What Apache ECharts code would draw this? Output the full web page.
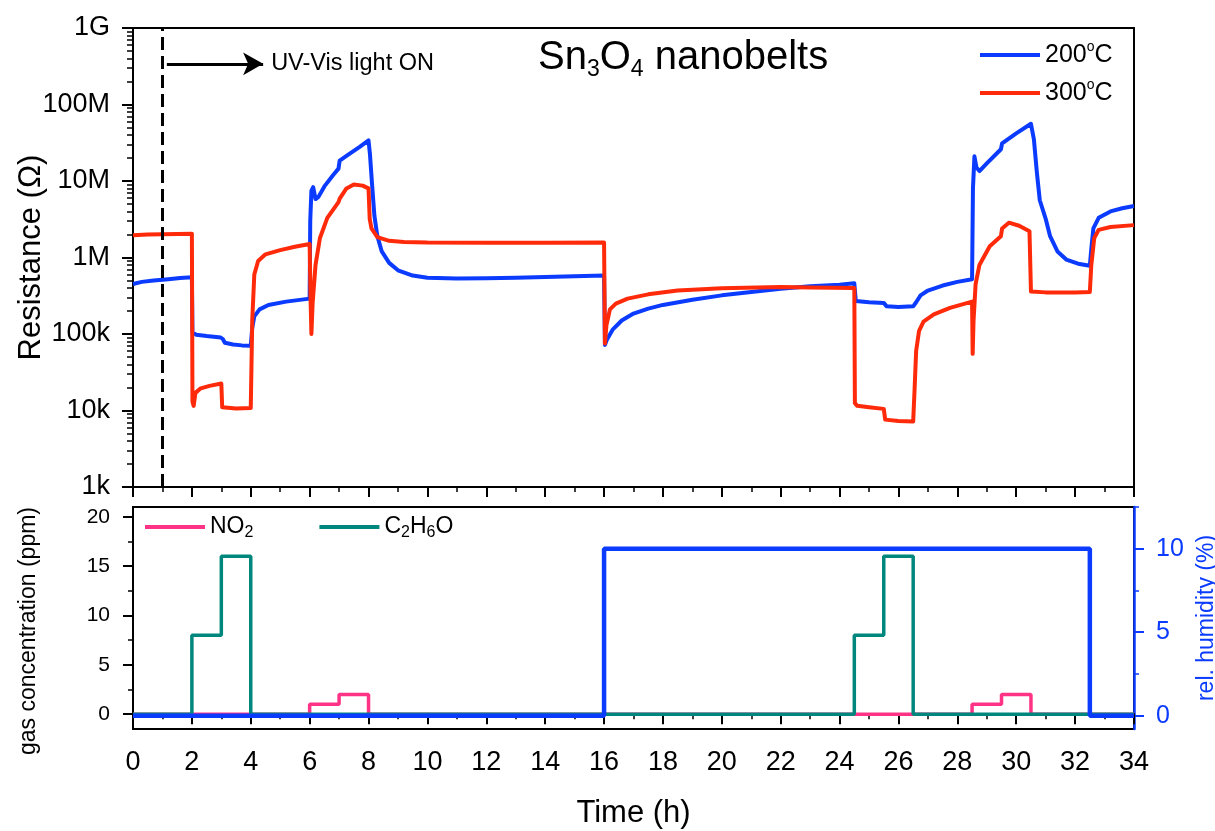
<!DOCTYPE html>
<html>
<head>
<meta charset="utf-8">
<script src="https://cdn.jsdelivr.net/npm/echarts@6/dist/echarts.min.js"></script>
<style>
  html, body { margin: 0; padding: 0; background: #fff; }
  #chart { width: 1215px; height: 831px; }
</style>
</head>
<body>
<div id="chart"></div>
<script>
// resistance (ohm) vs time (h)
const res200 = [
  [0, 4.5e5], [0.3, 4.8e5], [0.7, 5.0e5], [1.2, 5.2e5], [1.6, 5.4e5], [2.0, 5.5e5],
  [2.02, 1.05e5], [2.15, 9.8e4], [2.5, 9.4e4], [2.98, 9.0e4], [3.05, 8.6e4], [3.12, 7.7e4], [3.4, 7.3e4], [3.7, 7.1e4], [4.0, 7.0e4],
  [4.05, 1.2e5], [4.12, 1.7e5], [4.3, 2.1e5], [4.6, 2.4e5], [5.2, 2.65e5], [6.0, 2.9e5],
  [6.02, 3e6], [6.06, 7.5e6], [6.12, 8.3e6], [6.2, 5.8e6], [6.3, 6.2e6], [6.5, 8.5e6], [6.8, 1.2e7], [6.98, 1.45e7], [7.02, 1.85e7], [7.3, 2.2e7], [7.7, 2.8e7], [8.0, 3.4e7],
  [8.05, 2.2e7], [8.12, 9e6], [8.2, 3.5e6], [8.3, 1.9e6], [8.45, 1.2e6], [8.7, 8.5e5], [9.0, 6.8e5], [9.5, 5.8e5], [10, 5.45e5], [11, 5.3e5], [12, 5.35e5], [13, 5.45e5], [14, 5.55e5], [15, 5.7e5], [16, 5.8e5],
  [16.03, 7.2e4], [16.1, 8.5e4], [16.3, 1.15e5], [16.6, 1.5e5], [17, 1.85e5], [17.5, 2.15e5], [18, 2.4e5], [19, 2.8e5], [20, 3.2e5], [21, 3.55e5], [22, 3.9e5], [23, 4.2e5], [24, 4.4e5], [24.5, 4.6e5],
  [24.55, 2.7e5], [25, 2.6e5], [25.5, 2.55e5], [25.6, 2.3e5], [26, 2.25e5], [26.5, 2.3e5], [26.6, 2.6e5], [26.75, 3.2e5], [27, 3.7e5], [27.5, 4.3e5], [28, 4.8e5], [28.5, 5.2e5],
  [28.53, 8e6], [28.58, 2.1e7], [28.65, 1.5e7], [28.75, 1.35e7], [29, 1.7e7], [29.48, 2.6e7], [29.52, 3.1e7], [30, 4.2e7], [30.5, 5.6e7],
  [30.6, 3.5e7], [30.7, 1.3e7], [30.8, 5.6e6], [31.0, 3.2e6], [31.15, 1.9e6], [31.4, 1.2e6], [31.7, 9.4e5], [32.1, 8.3e5], [32.5, 7.8e5],
  [32.55, 1.3e6], [32.62, 2.4e6], [32.8, 3.3e6], [33.2, 4.0e6], [33.6, 4.4e6], [34, 4.7e6]
];
const res300 = [
  [0, 1.95e6], [0.5, 2.0e6], [1, 2.02e6], [2.0, 2.05e6],
  [2.02, 1.3e4], [2.06, 1.15e4], [2.12, 1.7e4], [2.3, 1.95e4], [2.6, 2.1e4], [3.0, 2.25e4], [3.03, 1.1e4], [3.5, 1.06e4], [4.0, 1.08e4],
  [4.05, 1.5e5], [4.12, 6e5], [4.25, 9e5], [4.5, 1.1e6], [5.0, 1.25e6], [5.5, 1.38e6], [6.0, 1.5e6],
  [6.03, 3e5], [6.06, 1.0e5], [6.1, 2.5e5], [6.2, 8e5], [6.35, 1.8e6], [6.6, 3.3e6], [6.98, 5.3e6], [7.02, 5.9e6], [7.25, 8e6], [7.5, 9e6], [7.8, 8.7e6], [8.0, 8.0e6],
  [8.04, 3.2e6], [8.1, 2.4e6], [8.3, 1.85e6], [8.7, 1.65e6], [9.2, 1.6e6], [10, 1.57e6], [12, 1.56e6], [14, 1.56e6], [16, 1.57e6],
  [16.03, 7.5e4], [16.08, 1.3e5], [16.2, 2.1e5], [16.4, 2.5e5], [16.8, 2.9e5], [17.5, 3.3e5], [18.5, 3.7e5], [20, 3.95e5], [22, 4.1e5], [23, 4.05e5], [24.5, 4.0e5],
  [24.52, 1.25e4], [24.6, 1.15e4], [25, 1.1e4], [25.5, 1.05e4], [25.55, 7.6e3], [26, 7.3e3], [26.5, 7.2e3],
  [26.55, 2.0e4], [26.6, 6e4], [26.7, 1.1e5], [26.85, 1.45e5], [27.2, 1.8e5], [27.75, 2.2e5], [28.5, 2.65e5],
  [28.52, 5.5e4], [28.55, 1.5e5], [28.62, 4.5e5], [28.75, 8e5], [29.1, 1.4e6], [29.48, 1.9e6], [29.52, 2.4e6], [29.75, 2.85e6], [30.1, 2.6e6], [30.45, 2.2e6],
  [30.5, 3.6e5], [31, 3.5e5], [32, 3.5e5], [32.5, 3.55e5],
  [32.55, 8e5], [32.65, 1.8e6], [32.8, 2.3e6], [33.2, 2.5e6], [34, 2.65e6]
];

// gas steps (ppm) and humidity steps (%), value holds until next point
const no2 = [[0, 0], [6, 1], [7, 2], [8, 0], [28.5, 1], [29.5, 2], [30.5, 0], [34, 0]];
const c2h6o = [[0, 0], [2, 8], [3, 16], [4, 0], [24.5, 8], [25.5, 16], [26.5, 0], [34, 0]];
const humidity = [[0, 0], [16, 10], [32.5, 0], [34, 0]];

const logTickLabels = ['1k', '10k', '100k', '1M', '10M', '100M', '1G'];
const gasTicks = [0, 5, 10, 15, 20];
const gasMinorTicks = [2.5, 7.5, 12.5, 17.5];
const humTicks = [0, 5, 10];
const humMinorTicks = [2.5, 7.5, 12.5];
const lightOnTime = 1;

// minor ticks of the log axis (2..9 in each decade), in log10 units
const logMinor = [];
for (let d = 3; d < 9; d++) {
  for (let k = 2; k <= 9; k++) logMinor.push(d + Math.log10(k));
}

const FONT = 'Liberation Sans';
const BLUE = '#0b3bff';
const RED = '#ff2a0a';
const PINK = '#ff3385';
const TEAL = '#00877d';

const chart = echarts.init(document.getElementById('chart'));

const blackLine = { show: true, lineStyle: { color: '#000', width: 2 } };

chart.setOption({
  animation: false,
  backgroundColor: '#fff',
  textStyle: { fontFamily: FONT },
  title: {
    left: 538,
    top: 34,
    padding: 0,
    text: '{m|Sn}{s|3}{m|O}{s|4}{m| nanobelts}',
    textStyle: {
      fontWeight: 'normal',
      rich: {
        m: { fontSize: 40, lineHeight: 47, fontWeight: 'normal', fontFamily: FONT, color: '#000' },
        s: { fontSize: 23, lineHeight: 14, verticalAlign: 'bottom', fontWeight: 'normal', fontFamily: FONT, color: '#000' }
      }
    }
  },
  legend: [
    {
      data: ['200°C', '300°C'],
      orient: 'vertical',
      left: 980,
      top: 40,
      padding: 0,
      itemGap: 8,
      itemWidth: 60,
      itemHeight: 4,
      icon: 'rect',
      formatter: (n) => n.slice(0, 3) + '{sup|o}C',
      textStyle: {
        fontSize: 25, lineHeight: 30, color: '#000', fontFamily: FONT,
        rich: { sup: { fontSize: 14, lineHeight: 14, verticalAlign: 'top', fontFamily: FONT, color: '#000' } }
      }
    },
    {
      data: ['NO2', 'C2H6O'],
      orient: 'horizontal',
      left: 145,
      top: 513,
      padding: 0,
      itemGap: 66,
      itemWidth: 60,
      itemHeight: 4,
      icon: 'rect',
      formatter: (n) => (n === 'NO2' ? 'NO{s|2}' : 'C{s|2}H{s|6}O'),
      textStyle: {
        fontSize: 23, lineHeight: 28, color: '#000', fontFamily: FONT,
        rich: { s: { fontSize: 16, lineHeight: 10, verticalAlign: 'bottom', fontFamily: FONT, color: '#000' } }
      }
    }
  ],
  grid: [
    { left: 133, top: 28, width: 1001, height: 459, show: true, borderColor: '#000', borderWidth: 2, outerBoundsMode: 'none', containLabel: false },
    { left: 133, top: 507, width: 1001, height: 222, show: true, borderColor: '#000', borderWidth: 2, outerBoundsMode: 'none', containLabel: false }
  ],
  xAxis: [
    {
      gridIndex: 0, type: 'value', min: 0, max: 34, interval: 2,
      axisLine: blackLine,
      axisTick: { show: true, length: 10, lineStyle: { color: '#000', width: 2 } },
      minorTick: { show: true, splitNumber: 2, length: 5, lineStyle: { color: '#000', width: 1.5 } },
      axisLabel: { show: false },
      splitLine: { show: false }
    },
    {
      gridIndex: 1, type: 'value', min: 0, max: 34, interval: 2,
      name: 'Time (h)', nameLocation: 'middle', nameGap: 69, nameMoveOverlap: false,
      nameTextStyle: { fontSize: 31, color: '#000', fontFamily: FONT },
      axisLine: blackLine,
      axisTick: { show: true, length: 10, lineStyle: { color: '#000', width: 2 } },
      minorTick: { show: true, splitNumber: 2, length: 5, lineStyle: { color: '#000', width: 1.5 } },
      axisLabel: { fontSize: 27, color: '#000', margin: 20, fontFamily: FONT },
      splitLine: { show: false }
    }
  ],
  yAxis: [
    {
      gridIndex: 0, type: 'log', logBase: 10, min: 1e3, max: 1e9, interval: 1, position: 'left',
      name: 'Resistance (Ω)', nameLocation: 'middle', nameGap: 86, nameMoveOverlap: false,
      nameTextStyle: { fontSize: 31, color: '#000', fontFamily: FONT },
      axisLine: blackLine,
      axisTick: { show: true, length: 11, lineStyle: { color: '#000', width: 2 } },
      axisLabel: {
        fontSize: 27, color: '#000', margin: 23, fontFamily: FONT,
        formatter: (v) => logTickLabels[Math.round(Math.log10(v)) - 3]
      },
      splitLine: { show: false }
    },
    {
      gridIndex: 0, type: 'value', min: 3, max: 9, position: 'left', offset: 0,
      axisLine: { show: false },
      axisTick: { show: true, length: 6, customValues: logMinor, lineStyle: { color: '#000', width: 1.5 } },
      axisLabel: { show: false },
      splitLine: { show: false }
    },
    {
      gridIndex: 1, type: 'value', min: -1.5, max: 21, position: 'left',
      name: 'gas concentration (ppm)', nameLocation: 'middle', nameGap: 93, nameMoveOverlap: false,
      nameTextStyle: { fontSize: 23, color: '#000', fontFamily: FONT, padding: [0, 26, 0, 0] },
      axisLine: blackLine,
      axisTick: { show: true, length: 10, customValues: gasTicks, lineStyle: { color: '#000', width: 2 } },
      axisLabel: { fontSize: 21, color: '#000', margin: 23, customValues: gasTicks, fontFamily: FONT },
      splitLine: { show: false }
    },
    {
      gridIndex: 1, type: 'value', min: -1.5, max: 21, position: 'left', offset: 0,
      axisLine: { show: false },
      axisTick: { show: true, length: 5, customValues: gasMinorTicks, lineStyle: { color: '#000', width: 1.5 } },
      axisLabel: { show: false },
      splitLine: { show: false }
    },
    {
      gridIndex: 1, type: 'value', min: -0.8, max: 12.5, position: 'right',
      name: 'rel. humidity (%)', nameLocation: 'middle', nameGap: 61, nameMoveOverlap: false,
      nameTextStyle: { fontSize: 23, color: BLUE, fontFamily: FONT },
      axisLine: { show: true, lineStyle: { color: BLUE, width: 2.5 } },
      axisTick: { show: true, length: 10, customValues: humTicks, lineStyle: { color: BLUE, width: 2 } },
      axisLabel: { fontSize: 25, color: BLUE, margin: 22, customValues: humTicks, fontFamily: FONT },
      splitLine: { show: false }
    },
    {
      gridIndex: 1, type: 'value', min: -0.8, max: 12.5, position: 'right', offset: 0,
      axisLine: { show: false },
      axisTick: { show: true, length: 5, customValues: humMinorTicks, lineStyle: { color: BLUE, width: 1.5 } },
      axisLabel: { show: false },
      splitLine: { show: false }
    }
  ],
  series: [
    {
      name: '200°C', type: 'line', xAxisIndex: 0, yAxisIndex: 0,
      data: res200, showSymbol: false, symbol: 'none', color: BLUE,
      lineStyle: { width: 4, color: BLUE, join: 'round' },
      markLine: {
        silent: true, symbol: 'none', animation: false,
        label: { show: false },
        lineStyle: { color: '#000', width: 3, type: [13, 6] },
        data: [{ xAxis: lightOnTime }]
      }
    },
    {
      name: '300°C', type: 'line', xAxisIndex: 0, yAxisIndex: 0,
      data: res300, showSymbol: false, symbol: 'none', color: RED,
      lineStyle: { width: 4, color: RED, join: 'round' },
      markLine: {
        silent: true, symbol: ['none', 'arrow'], symbolSize: [17, 20], animation: false,
        lineStyle: { color: '#000', width: 3, type: 'solid' },
        label: {
          show: true, position: 'end', distance: 8, formatter: 'UV-Vis light ON',
          fontSize: 23.5, color: '#000', fontFamily: FONT
        },
        data: [[{ coord: [lightOnTime + 0.15, 3.4e8] }, { coord: [4.42, 3.4e8] }]]
      }
    },
    {
      name: 'NO2', type: 'line', xAxisIndex: 1, yAxisIndex: 2, step: 'end',
      data: no2, showSymbol: false, symbol: 'none', color: PINK,
      lineStyle: { width: 3.5, color: PINK }
    },
    {
      name: 'C2H6O', type: 'line', xAxisIndex: 1, yAxisIndex: 2, step: 'end',
      data: c2h6o, showSymbol: false, symbol: 'none', color: TEAL,
      lineStyle: { width: 3.5, color: TEAL }
    },
    {
      name: 'humidity', type: 'line', xAxisIndex: 1, yAxisIndex: 4, step: 'end',
      data: humidity, showSymbol: false, symbol: 'none', color: BLUE,
      lineStyle: { width: 4.5, color: BLUE }
    }
  ]
});
</script>
</body>
</html>
